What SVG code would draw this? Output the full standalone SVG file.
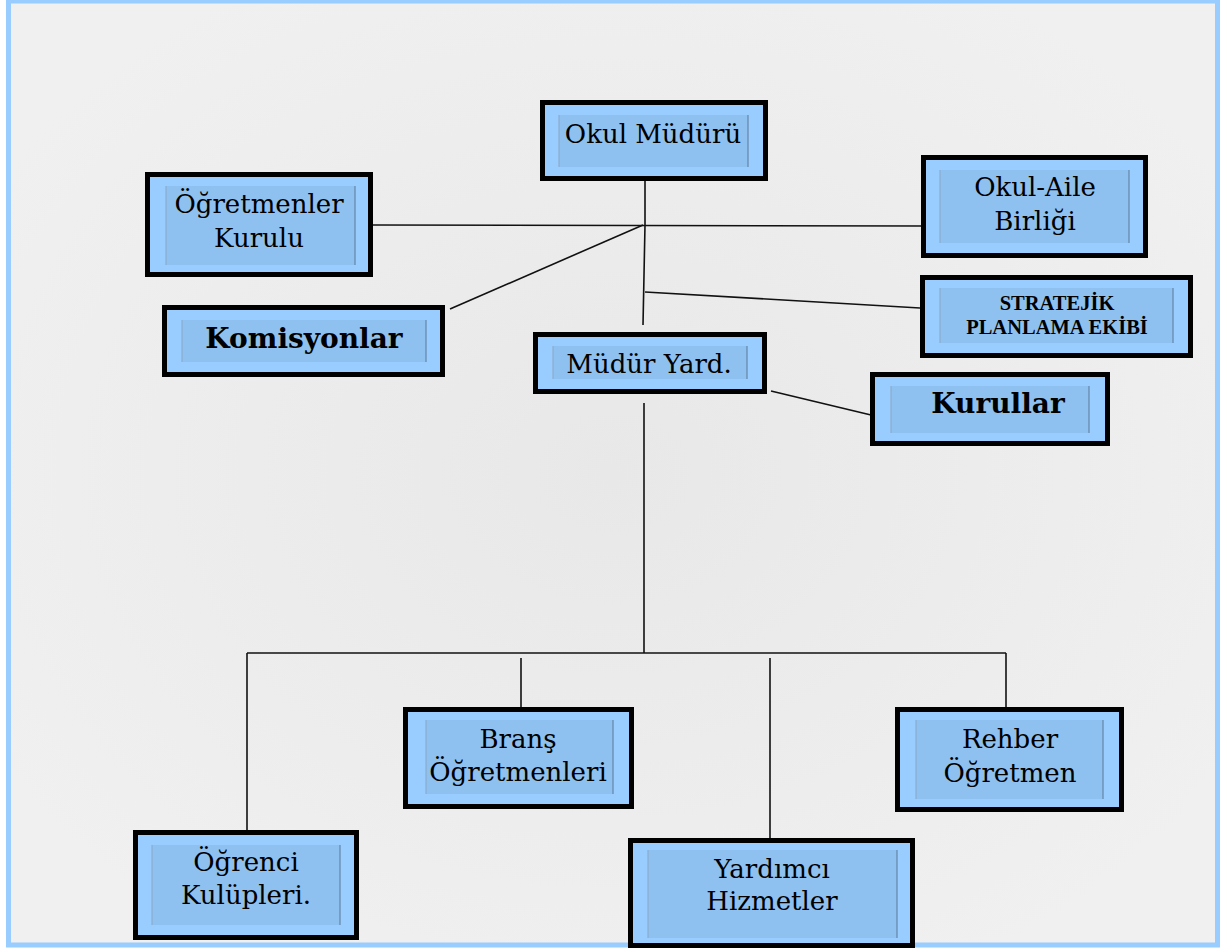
<svg xmlns="http://www.w3.org/2000/svg" width="1222" height="951" viewBox="0 0 1222 951">
<defs>
<radialGradient id="bg" cx="0.5" cy="0.5" r="0.6">
<stop offset="0" stop-color="#e8e8e8"/>
<stop offset="1" stop-color="#f0f0f0"/>
</radialGradient>
<style>
.outer{fill:#99ccff;stroke:#000;stroke-width:5}
.inner{fill:#8fc1f0;stroke:none}
.sideL{stroke:#8aa6c4;stroke-width:1}
.sideR{stroke:#6485a6;stroke-width:1.2}
.t{font-family:"DejaVu Serif","Liberation Serif",serif;font-size:26px;fill:#000;text-anchor:middle}
.tb{font-family:"DejaVu Serif","Liberation Serif",serif;font-size:28px;font-weight:bold;fill:#000;text-anchor:middle}
.ts{font-family:"Liberation Serif","DejaVu Serif",serif;font-size:20.5px;font-weight:bold;fill:#000;text-anchor:middle}
.c{stroke:#111;stroke-width:1.6;fill:none}
</style>
</defs>
<rect x="0" y="0" width="1222" height="951" fill="#ffffff"/>
<rect x="8.5" y="1" width="1209" height="944" fill="url(#bg)" stroke="#99ccff" stroke-width="5"/>

<g id="connectors">
<polyline class="c" points="645,181 645,225 643,325"/>
<line class="c" x1="373" y1="225" x2="928" y2="226"/>
<line class="c" x1="643" y1="225" x2="450" y2="309"/>
<line class="c" x1="645" y1="292" x2="920" y2="308"/>
<line class="c" x1="644" y1="403" x2="644" y2="653"/>
<line class="c" x1="771" y1="391" x2="871" y2="415"/>
<line class="c" x1="247" y1="653" x2="1006" y2="653"/>
<line class="c" x1="247" y1="653" x2="247" y2="830"/>
<line class="c" x1="521" y1="658" x2="521" y2="707"/>
<line class="c" x1="770" y1="658" x2="770" y2="838"/>
<line class="c" x1="1006" y1="653" x2="1006" y2="707"/>
</g>

<g id="okul-muduru">
<rect class="outer" x="542.5" y="102.5" width="223" height="76"/>
<rect class="inner" x="559" y="115" width="189" height="52"/>
<line class="sideL" x1="559" y1="115" x2="559" y2="167"/><line class="sideR" x1="748" y1="115" x2="748" y2="167"/>
<text class="t" x="653" y="143">Okul Müdürü</text>
</g>

<g id="ogretmenler-kurulu">
<rect class="outer" x="147.5" y="174.5" width="223" height="100"/>
<rect class="inner" x="166" y="186" width="189" height="79"/>
<line class="sideL" x1="166" y1="186" x2="166" y2="265"/><line class="sideR" x1="355" y1="186" x2="355" y2="265"/>
<text class="t" x="259" y="213">Öğretmenler</text>
<text class="t" x="259" y="247">Kurulu</text>
</g>

<g id="okul-aile-birligi">
<rect class="outer" x="923.5" y="157.5" width="222" height="98"/>
<rect class="inner" x="940" y="170" width="189" height="73"/>
<line class="sideL" x1="940" y1="170" x2="940" y2="243"/><line class="sideR" x1="1129" y1="170" x2="1129" y2="243"/>
<text class="t" x="1035" y="196">Okul-Aile</text>
<text class="t" x="1035" y="230">Birliği</text>
</g>

<g id="stratejik-planlama">
<rect class="outer" x="922.5" y="277.5" width="268" height="78"/>
<rect class="inner" x="940" y="288" width="233" height="55"/>
<line class="sideL" x1="940" y1="288" x2="940" y2="343"/><line class="sideR" x1="1173" y1="288" x2="1173" y2="343"/>
<text class="ts" x="1057" y="310">STRATEJİK</text>
<text class="ts" x="1057" y="334">PLANLAMA EKİBİ</text>
</g>

<g id="komisyonlar">
<rect class="outer" x="164.5" y="307.5" width="278" height="67"/>
<rect class="inner" x="182" y="320" width="244" height="42"/>
<line class="sideL" x1="182" y1="320" x2="182" y2="362"/><line class="sideR" x1="426" y1="320" x2="426" y2="362"/>
<text class="tb" x="304" y="348">Komisyonlar</text>
</g>

<g id="mudur-yard">
<rect class="outer" x="535.5" y="334.5" width="229" height="57"/>
<rect class="inner" x="553" y="346" width="194" height="33"/>
<line class="sideL" x1="553" y1="346" x2="553" y2="379"/><line class="sideR" x1="747" y1="346" x2="747" y2="379"/>
<text class="t" x="649" y="373">Müdür Yard.</text>
</g>

<g id="kurullar">
<rect class="outer" x="872.5" y="374.5" width="235" height="69"/>
<rect class="inner" x="891" y="386" width="198" height="47"/>
<line class="sideL" x1="891" y1="386" x2="891" y2="433"/><line class="sideR" x1="1089" y1="386" x2="1089" y2="433"/>
<text class="tb" x="998" y="413">Kurullar</text>
</g>

<g id="brans-ogretmenleri">
<rect class="outer" x="405.5" y="709.5" width="226" height="97"/>
<rect class="inner" x="426" y="720" width="187" height="74"/>
<line class="sideL" x1="426" y1="720" x2="426" y2="794"/><line class="sideR" x1="613" y1="720" x2="613" y2="794"/>
<text class="t" x="518" y="748">Branş</text>
<text class="t" x="518" y="781">Öğretmenleri</text>
</g>

<g id="rehber-ogretmen">
<rect class="outer" x="897.5" y="709.5" width="224" height="100"/>
<rect class="inner" x="916" y="720" width="187" height="79"/>
<line class="sideL" x1="916" y1="720" x2="916" y2="799"/><line class="sideR" x1="1103" y1="720" x2="1103" y2="799"/>
<text class="t" x="1010" y="748">Rehber</text>
<text class="t" x="1010" y="782">Öğretmen</text>
</g>

<g id="ogrenci-kulupleri">
<rect class="outer" x="135.5" y="832.5" width="221" height="105"/>
<rect class="inner" x="152" y="845" width="188" height="80"/>
<line class="sideL" x1="152" y1="845" x2="152" y2="925"/><line class="sideR" x1="340" y1="845" x2="340" y2="925"/>
<text class="t" x="246" y="871">Öğrenci</text>
<text class="t" x="246" y="904">Kulüpleri.</text>
</g>

<g id="yardimci-hizmetler">
<rect class="outer" x="630.5" y="840.5" width="282" height="105"/>
<rect class="inner" x="648" y="850" width="249" height="88"/>
<line class="sideL" x1="648" y1="850" x2="648" y2="938"/><line class="sideR" x1="897" y1="850" x2="897" y2="938"/>
<text class="t" x="772" y="878">Yardımcı</text>
<text class="t" x="772" y="910">Hizmetler</text>
</g>
</svg>
